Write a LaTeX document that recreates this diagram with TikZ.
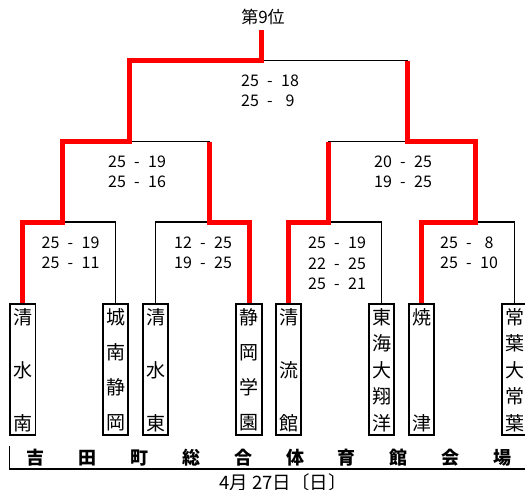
\documentclass[tikz,border=0pt]{standalone}
\usepackage{fontspec}
\setmainfont{Noto Sans CJK JP}
\newcommand\scr[2]{\makebox[17pt][c]{#1}\makebox[23pt][c]{-}\makebox[17pt][c]{#2}}
\tikzset{
  blk/.style={draw=black,line width=1.3pt},
  win/.style={draw=red,line width=5pt,line join=miter},
  teambox/.style={draw=black,line width=1.6pt,minimum width=25.5pt,minimum height=131.4pt,inner sep=0pt},
  tchar/.style={inner sep=0pt,font=\fontsize{19}{19}\selectfont},
  score/.style={inner sep=0pt,align=center,font=\fontsize{16}{20.5}\selectfont},
  venue/.style={inner sep=0pt,font=\fontsize{18}{18}\selectfont\bfseries},
}
\newcommand\team[4]{% name, x, n, list
  \node[teambox] (#1) at (#2,369.5) {};
  \foreach \ch [count=\i from 0] in {#4}
    \node[tchar] (#1-\i) at (#2,{317+106*\i/(#3-1)}) {\ch};
}
\begin{document}
\begin{tikzpicture}[x=1pt,y=-1pt]
\useasboundingbox (0,0) rectangle (525,490);
\clip (0,0) rectangle (525,490);
% teams
\team{b1}{22.75}{3}{清,水,南}
\team{b2}{115.5}{4}{城,南,静,岡}
\team{b3}{155.5}{3}{清,水,東}
\team{b4}{249}{4}{静,岡,学,園}
\team{b5}{288.5}{3}{清,流,館}
\team{b6}{381.5}{5}{東,海,大,翔,洋}
\team{b7}{421.5}{2}{焼,津}
\team{b8}{514.5}{5}{常,葉,大,常,葉}
% junctions
\coordinate (j1) at (62.5,222);
\coordinate (j2) at (209.5,222);
\coordinate (j3) at (328.5,222);
\coordinate (j4) at (475,222);
\coordinate (k1) at (129.5,141.5);
\coordinate (k2) at (407.5,141.5);
\coordinate (top) at (261.5,60.5);
\coordinate (champ) at (261.5,30);
% black brackets
\draw[blk] (b1.north) |- (j1) -| (b2.north);
\draw[blk] (b3.north) |- (j2) -| (b4.north);
\draw[blk] (b5.north) |- (j3) -| (b6.north);
\draw[blk] (b7.north) |- (j4) -| (b8.north);
\draw[blk] (j1) |- (k1) -| (j2);
\draw[blk] (j3) |- (k2) -| (j4);
\draw[blk] (k1) |- (top) -| (k2);
% winners
\draw[win] (champ) -- (top) -| (k1) -| (j1) -| (b1.north);
\draw[win] (j2 |- k1) -- (j2) -| (b4.north);
\draw[win] (j3 |- k2) -- (j3) -| (b5.north);
\draw[win] (k2 |- top) -- (k2) -| (j4) -| (b7.north);
% titles
\node[inner sep=0pt,font=\fontsize{17}{17}\selectfont] (title) at (263,17) {第9位};
% scores
\node[score] (s1) at (70.5,253) {\scr{25}{19}\\\scr{25}{11}};
\node[score] (s2) at (203,253) {\scr{12}{25}\\\scr{19}{25}};
\node[score] (s3) at (337,263.5) {\scr{25}{19}\\\scr{22}{25}\\\scr{25}{21}};
\node[score] (s4) at (469,253) {\scr{25}{8}\\\scr{25}{10}};
\node[score] (s5) at (137,172) {\scr{25}{19}\\\scr{25}{16}};
\node[score] (s6) at (403,172) {\scr{20}{25}\\\scr{19}{25}};
\node[score] (s7) at (270,91) {\scr{25}{18}\\\scr{25}{9}};
% venue
\coordinate (v1) at (9.5,446);
\coordinate (v2) at (9.5,469);
\coordinate (v3) at (526,469);
\draw[draw=black,line width=1.6pt] (v1) -- (v2) -- (v3);
\foreach \ch [count=\i from 0] in {吉,田,町,総,合,体,育,館,会,場}
  \node[venue] (v-\i) at ({36+51.8*\i},458) {\ch};
\node[inner sep=0pt,font=\fontsize{18.5}{18.5}\selectfont] (date) at (283,482) {4月 27日〔日〕};
\end{tikzpicture}
\end{document}
